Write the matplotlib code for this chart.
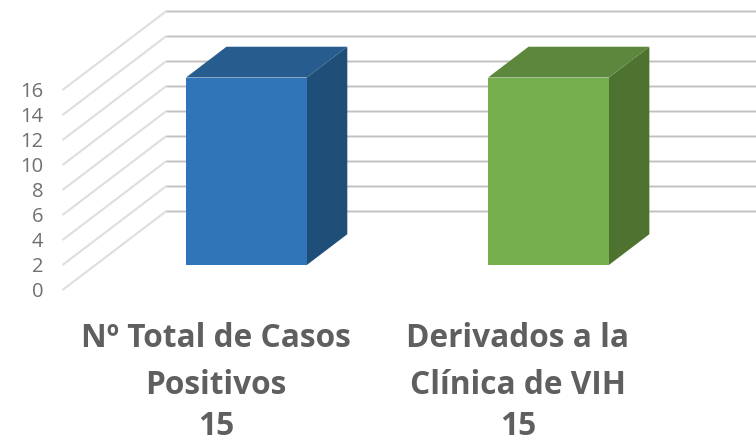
import numpy as np
import matplotlib
matplotlib.use('Agg')
import matplotlib.pyplot as plt
from matplotlib.patches import Polygon

# data
categories = [['Nº Total de Casos', 'Positivos'], ['Derivados a la', 'Clínica de VIH']]
values = [15, 15]
y_ticks = [0, 2, 4, 6, 8, 10, 12, 14, 16]

# bar colours: front, top, side
front_colors = ['#2F75B7', '#75AF4E']
top_colors = ['#275C8F', '#5C873C']
side_colors = ['#1F4E79', '#4E7330']

# 3d look: how far one unit of depth moves a point
depth_x = 0.344
depth_y = 6.32
bar_width = 0.4
bar_d0 = 0.316
bar_d1 = 0.706


def proj(x, v, d):
    return (x + d * depth_x, v + d * depth_y)


fig = plt.figure(figsize=(7.56, 4.42), dpi=100)
ax = fig.add_axes([0, 0, 1, 1])
ax.set_xlim(-0.707, 1.796)
ax.set_ylim(-12.16, 23.2)
ax.axis('off')

x_left = -0.5
x_right = 1.5

# walls
for t in y_ticks:
    p0 = proj(x_left, t, 0)
    p1 = proj(x_left, t, 1)
    p2 = proj(x_right + 0.5, t, 1)
    ax.plot([p0[0], p1[0]], [p0[1], p1[1]], color='#dedede', lw=1.5, zorder=1,
            solid_capstyle='butt')
    ax.plot([p1[0], p2[0]], [p1[1], p2[1]], color='#e2e2e2', lw=2.0, zorder=1,
            solid_capstyle='butt')
    ax.plot([p1[0], p2[0]], [p1[1] + 0.04, p2[1] + 0.04], color='#c0c0c0', lw=0.8, zorder=1,
            solid_capstyle='butt')
    ax.text(-0.5 - 0.063, t - 0.15, str(t), ha='right', va='center', fontsize=14.5,
            color='#707070', family='Open Sans')

# bars
for i, v in enumerate(values):
    xa = i - bar_width / 2
    xb = i + bar_width / 2
    front = [proj(xa, 0, bar_d0), proj(xb, 0, bar_d0), proj(xb, v, bar_d0), proj(xa, v, bar_d0)]
    top = [proj(xa, v, bar_d0), proj(xb, v, bar_d0), proj(xb, v, bar_d1), proj(xa, v, bar_d1)]
    side = [proj(xb, 0, bar_d0), proj(xb, 0, bar_d1), proj(xb, v, bar_d1), proj(xb, v, bar_d0)]
    ax.add_patch(Polygon(side, closed=True, fc=side_colors[i], ec='none', zorder=3))
    ax.add_patch(Polygon(top, closed=True, fc=top_colors[i], ec='none', zorder=3))
    ax.add_patch(Polygon(front, closed=True, fc=front_colors[i], ec='none', zorder=4))

# category labels, value on last line
for i, lines in enumerate(categories):
    ax.text(i + 0.008, -3.9, lines[0], ha='center', va='center', fontsize=22.8,
            fontweight='bold', color='#5f5f5f', family='Open Sans')
    ax.text(i + 0.008, -7.65, lines[1], ha='center', va='center', fontsize=22.8,
            fontweight='bold', color='#5f5f5f', family='Open Sans')
    ax.text(i + 0.008, -10.9, str(values[i]), ha='center', va='center', fontsize=22.8,
            fontweight='bold', color='#5f5f5f', family='Open Sans')

fig.savefig('out.png', dpi=100)
